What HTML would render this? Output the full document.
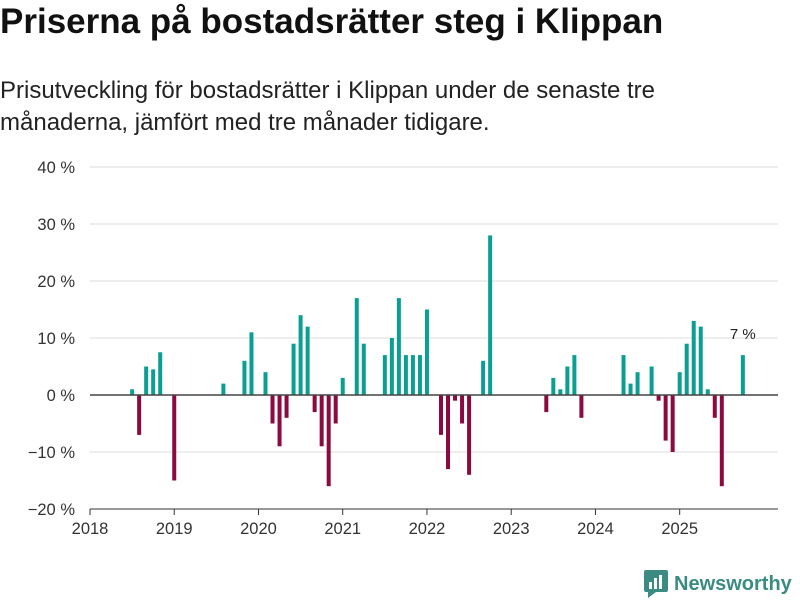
<!DOCTYPE html>
<html><head><meta charset="utf-8"><style>
body{margin:0;width:800px;height:600px;background:#fff;font-family:"Liberation Sans",sans-serif;overflow:hidden;position:relative}
#title{position:absolute;left:0;top:2px;font-size:35px;font-weight:bold;color:#111;letter-spacing:0px;white-space:nowrap}
#sub{position:absolute;left:0;top:75px;font-size:24px;line-height:32px;color:#222;width:690px}
svg{position:absolute;left:0;top:0}
#logo{position:absolute;left:644px;top:570px;display:flex;align-items:center;font-size:20px;font-weight:bold;color:#3a8c82}
</style></head><body>
<div id="title">Priserna på bostadsrätter steg i Klippan</div>
<div id="sub">Prisutveckling för bostadsrätter i Klippan under de senaste tre månaderna, jämfört med tre månader tidigare.</div>
<svg id="chart" width="800" height="600"></svg>
<div id="logo"><svg width="24" height="28" style="position:static;margin-right:6px"><rect x="0" y="0" width="24" height="22" rx="2" fill="#3a8c82"/><polygon points="4,22 12,22 4,28" fill="#3a8c82"/><rect x="5" y="12" width="3" height="7" fill="#fff"/><rect x="10" y="8" width="3" height="11" fill="#fff"/><rect x="15" y="5" width="3" height="14" fill="#fff"/></svg>Newsworthy</div>
<script>
const startYear = 2018;
const yTicks = [-20,-10,0,10,20,30,40];
const xYears = [2018,2019,2020,2021,2022,2023,2024,2025];
// month index from Jan 2018
const monthIdx = [6,7,8,9,10,12,19,22,23,25,26,27,28,29,30,31,32,33,34,35,36,38,39,42,43,44,45,46,47,48,50,51,52,53,54,56,57,65,66,67,68,69,70,76,77,78,80,81,82,83,84,85,86,87,88,89,90,93];
const values = [1,-7,5,4.5,7.5,-15,2,6,11,4,-5,-9,-4,9,14,12,-3,-9,-16,-5,3,17,9,7,10,17,7,7,7,15,-7,-13,-1,-5,-14,6,28,-3,3,1,5,7,-4,7,2,4,5,-1,-8,-10,4,9,13,12,1,-4,-16,7];
const lastLabel = "7 %";
const svg = document.getElementById('chart');
const NS = 'http://www.w3.org/2000/svg';
const x0=90, x1=778, monthW=7.02;
const y = v => 395 - v*5.7;
const x = m => x0 + m*monthW;
function mk(t,a){const e=document.createElementNS(NS,t);for(const k in a)e.setAttribute(k,a[k]);svg.appendChild(e);return e;}
yTicks.forEach(t=>{
  if(t!==0){const g=mk('line',{x1:x0,x2:x1,y1:y(t),y2:y(t),stroke:'#dcdcdc','stroke-width':1});
  
  }
  const l=mk('text',{x:75,y:y(t)+6,'text-anchor':'end','font-size':16.5,fill:'#333','font-family':'Liberation Sans, sans-serif'});
  l.textContent=(t<0?'−'+(-t):t)+' %';
  
  
});
xYears.forEach(yr=>{
  const xx=x((yr-startYear)*12);
  const tk=mk('line',{x1:xx,x2:xx,y1:509,y2:515,stroke:'#333','stroke-width':1});
  
  
  const l=mk('text',{x:xx,y:534,'text-anchor':'middle','font-size':16.5,fill:'#333','font-family':'Liberation Sans, sans-serif'});
  l.textContent=yr;
  
  
});
const ax=mk('line',{x1:x0,x2:x1,y1:509,y2:509,stroke:'#333','stroke-width':1});


values.forEach((v,i)=>{
  const cx=x(monthIdx[i]);
  const top=Math.min(y(v),y(0)), h=Math.abs(y(v)-y(0));
  const b=mk('rect',{x:cx-2,y:top,width:4,height:h,fill:v>=0?'#0b9e93':'#8b0a3f'});
  
  
});
const z=mk('line',{x1:x0,x2:x1,y1:y(0),y2:y(0),stroke:'#444','stroke-width':1.5});


const li=values.length-1;
const lab=mk('text',{x:x(monthIdx[li]),y:y(values[li])-16,'text-anchor':'middle','font-size':15,fill:'#222','font-family':'Liberation Sans, sans-serif'});
lab.textContent=lastLabel;


</script>
</body></html>
